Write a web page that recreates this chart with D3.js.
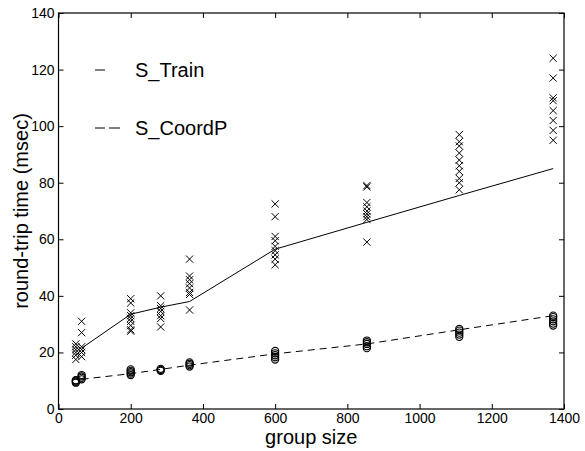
<!DOCTYPE html>
<html><head><meta charset="utf-8">
<script src="https://cdn.jsdelivr.net/npm/d3@7"></script>
<style>body{margin:0;background:#fff}svg{display:block}text{font-family:"Liberation Sans",Arial,sans-serif;fill:#000}</style>
</head><body><svg id="c" width="585" height="451"></svg>
<script>
const groupSizes = [48, 64, 200, 283, 363, 600, 854, 1110, 1370];
const trainSamples = [
  [17.5, 19, 20, 21, 22, 23],
  [18.5, 20, 21, 22, 27, 31],
  [39, 37.5, 34, 33, 32, 31, 29.5, 28, 27.5],
  [40, 36.5, 35.5, 34.5, 33, 32, 29],
  [53, 47, 45.7, 44.3, 42.8, 41.2, 40.5, 35],
  [72.5, 68, 61, 59.5, 57.5, 56, 54.5, 53, 51],
  [79, 78.5, 73, 71.5, 70, 69, 68, 67, 59],
  [97, 94.5, 93, 90.5, 88, 86, 84, 81.5, 80, 77.5],
  [124, 117, 110, 109, 105.5, 102, 98.5, 95]
];
const coordSamples = [
  [9.3, 9.6, 10, 10.2],
  [10.5, 11, 11.5, 12],
  [12, 12.5, 13, 13.5, 14],
  [13.5, 13.8, 14.2],
  [15, 15.5, 16, 16.5],
  [17.5, 18.3, 19, 19.7, 20.5],
  [21.5, 22.2, 23, 23.6, 24.2],
  [25.5, 26.3, 27, 27.7, 28.3],
  [29.5, 30.2, 31, 31.7, 32.5, 33]
];
const lineSizes = [64, 200, 283, 363, 600, 854, 1110, 1370];
const trainMean = [21.5, 33.5, 36, 38, 56.5, 66, 75.5, 85];
const coordMean = [10.5, 12.5, 14, 15.5, 19.5, 23, 28, 33];
const xTicks = [0, 200, 400, 600, 800, 1000, 1200, 1400];
const yTicks = [0, 20, 40, 60, 80, 100, 120, 140];
const legendLabels = ["S_Train", "S_CoordP"];

const svg = d3.select("#c");
const L = 58.5, R = 564, T = 13, B = 409;
const x = d3.scaleLinear().domain([0, 1400]).range([L, R]);
const y = d3.scaleLinear().domain([0, 140]).range([B, T]);
const fmt = d3.format("d");

const tl = 5;
svg.append("g").attr("transform", `translate(0,${B})`)
  .call(d3.axisBottom(x).tickValues(xTicks).tickFormat(fmt).tickSizeInner(-tl).tickSizeOuter(0).tickPadding(4))
  .call(g => { g.select(".domain").remove(); g.selectAll("text").attr("font-size", 14); });
svg.append("g").attr("transform", `translate(0,${T})`)
  .call(d3.axisTop(x).tickValues(xTicks).tickSizeInner(-tl).tickSizeOuter(0).tickFormat(""))
  .call(g => g.select(".domain").remove());
svg.append("g").attr("transform", `translate(${L},0)`)
  .call(d3.axisLeft(y).tickValues(yTicks).tickFormat(fmt).tickSizeInner(-tl).tickSizeOuter(0).tickPadding(4))
  .call(g => { g.select(".domain").remove(); g.selectAll("text").attr("font-size", 14); });
svg.append("g").attr("transform", `translate(${R},0)`)
  .call(d3.axisRight(y).tickValues(yTicks).tickSizeInner(-tl).tickSizeOuter(0).tickFormat(""))
  .call(g => g.select(".domain").remove());
svg.selectAll(".tick line").attr("stroke", "#000");
svg.append("rect").attr("x", L).attr("y", T).attr("width", R - L).attr("height", B - T)
  .attr("fill", "none").attr("stroke", "#000").attr("stroke-width", 1.2);

svg.append("text").attr("x", (L + R) / 2).attr("y", 444).attr("text-anchor", "middle")
  .attr("font-size", 20).text("group size");
svg.append("text").attr("transform", `translate(28,${(T + B) / 2}) rotate(-90)`)
  .attr("text-anchor", "middle").attr("font-size", 20).text("round-trip time (msec)");

const xs = [];
groupSizes.forEach((g, i) => trainSamples[i].forEach(v => xs.push([g, v])));
const cs = [];
groupSizes.forEach((g, i) => coordSamples[i].forEach(v => cs.push([g, v])));
const m = 3.6;
svg.append("g").selectAll("path").data(xs).join("path")
  .attr("d", d => { const px = x(d[0]), py = y(d[1]);
    return `M${px - m},${py - m}L${px + m},${py + m}M${px - m},${py + m}L${px + m},${py - m}`; })
  .attr("stroke", "#000").attr("stroke-width", 1).attr("fill", "none");
svg.append("g").selectAll("circle").data(cs).join("circle")
  .attr("cx", d => x(d[0])).attr("cy", d => y(d[1])).attr("r", 3.6)
  .attr("fill", "none").attr("stroke", "#000").attr("stroke-width", 1.1);

const line = d3.line().x(d => x(d[0])).y(d => y(d[1]));
svg.append("path").attr("d", line(lineSizes.map((s, i) => [s, trainMean[i]])))
  .attr("fill", "none").attr("stroke", "#000").attr("stroke-width", 1);
svg.append("path").attr("d", line(lineSizes.map((s, i) => [s, coordMean[i]])))
  .attr("fill", "none").attr("stroke", "#000").attr("stroke-width", 1).attr("stroke-dasharray", "7,5");

const lg = svg.append("g");
lg.append("line").attr("x1", 95).attr("x2", 105).attr("y1", 70).attr("y2", 70).attr("stroke", "#000");
lg.append("text").attr("x", 135).attr("y", 77).attr("font-size", 20).text(legendLabels[0]);
lg.append("line").attr("x1", 95).attr("x2", 105).attr("y1", 128).attr("y2", 128).attr("stroke", "#000");
lg.append("line").attr("x1", 109).attr("x2", 120).attr("y1", 128).attr("y2", 128).attr("stroke", "#000");
lg.append("text").attr("x", 135).attr("y", 135).attr("font-size", 20).text(legendLabels[1]);
</script></body></html>
